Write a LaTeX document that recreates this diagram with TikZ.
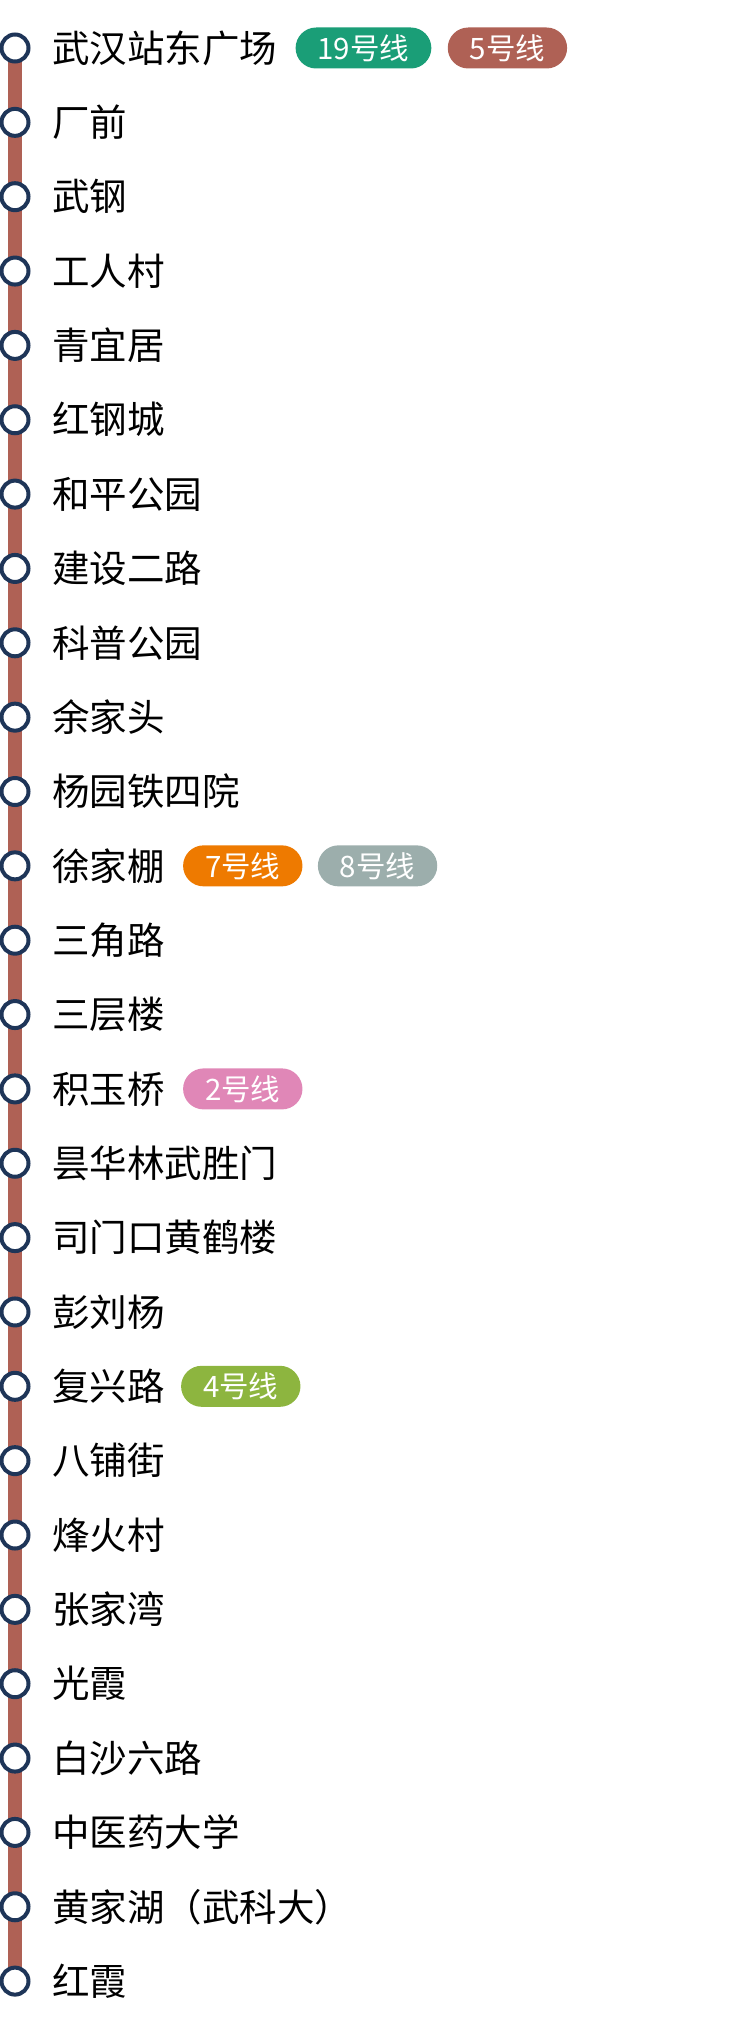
\documentclass[tikz,border=0pt]{standalone}
\usepackage{fontspec}
\setmainfont{Noto Sans CJK SC}
\usetikzlibrary{calc}
\usetikzlibrary{positioning}

\definecolor{lineFive}{HTML}{AF6155}
\definecolor{lineNineteen}{HTML}{1A9E77}
\definecolor{lineSeven}{HTML}{EE7A00}
\definecolor{lineEight}{HTML}{9CAEAC}
\definecolor{lineTwo}{HTML}{E087B7}
\definecolor{lineFour}{HTML}{8DB53F}
\definecolor{stationRing}{HTML}{1E3558}

\tikzset{
    station/.style={circle, draw=stationRing, line width=4pt, fill=white, minimum size=27pt, inner sep=0pt},
    stationname/.style={anchor=west, inner sep=0pt, font=\fontsize{37.5}{42}\selectfont},
    transfer/.style={rounded corners=20.5pt, minimum height=41pt, inner xsep=22pt, inner ysep=0pt,
        text=white, font=\fontsize{29.5}{33}\selectfont},
}

\begin{document}
\begin{tikzpicture}[x=1pt, y=1pt]
    \useasboundingbox (0,0) rectangle (748,-2023);

    % Constants
    \pgfmathsetmacro{\xzero}{15}
    \pgfmathsetmacro{\yzero}{-48}
    \pgfmathsetmacro{\gap}{74.35}

    % Track
    \draw [lineFive, line width=14pt] (\xzero, \yzero) -- (\xzero, \yzero-26*\gap);

    % Stations
    \foreach \name [count=\i] in {武汉站东广场, 厂前, 武钢, 工人村, 青宜居, 红钢城, 和平公园,
        建设二路, 科普公园, 余家头, 杨园铁四院, 徐家棚, 三角路, 三层楼, 积玉桥,
        昙华林武胜门, 司门口黄鹤楼, 彭刘杨, 复兴路, 八铺街, 烽火村, 张家湾, 光霞,
        白沙六路, 中医药大学, 黄家湖（武科大）, 红霞} {
        \node [station] (c\i) at (\xzero, \yzero-\gap*\i+\gap) {};
        \node [stationname] (s\i) at ($(c\i)+(37,0)$) {\name};
    }

    % Transfer badges
    \node [transfer, fill=lineNineteen, right=18pt of s1] (t19) {19号线};
    \node [transfer, fill=lineFive, right=16pt of t19] (t5) {5号线};

    \node [transfer, fill=lineSeven, right=18pt of s12] (t7) {7号线};
    \node [transfer, fill=lineEight, right=15pt of t7] (t8) {8号线};

    \node [transfer, fill=lineTwo, right=18pt of s15] (t2) {2号线};

    \node [transfer, fill=lineFour, right=16pt of s19] (t4) {4号线};

\end{tikzpicture}
\end{document}
